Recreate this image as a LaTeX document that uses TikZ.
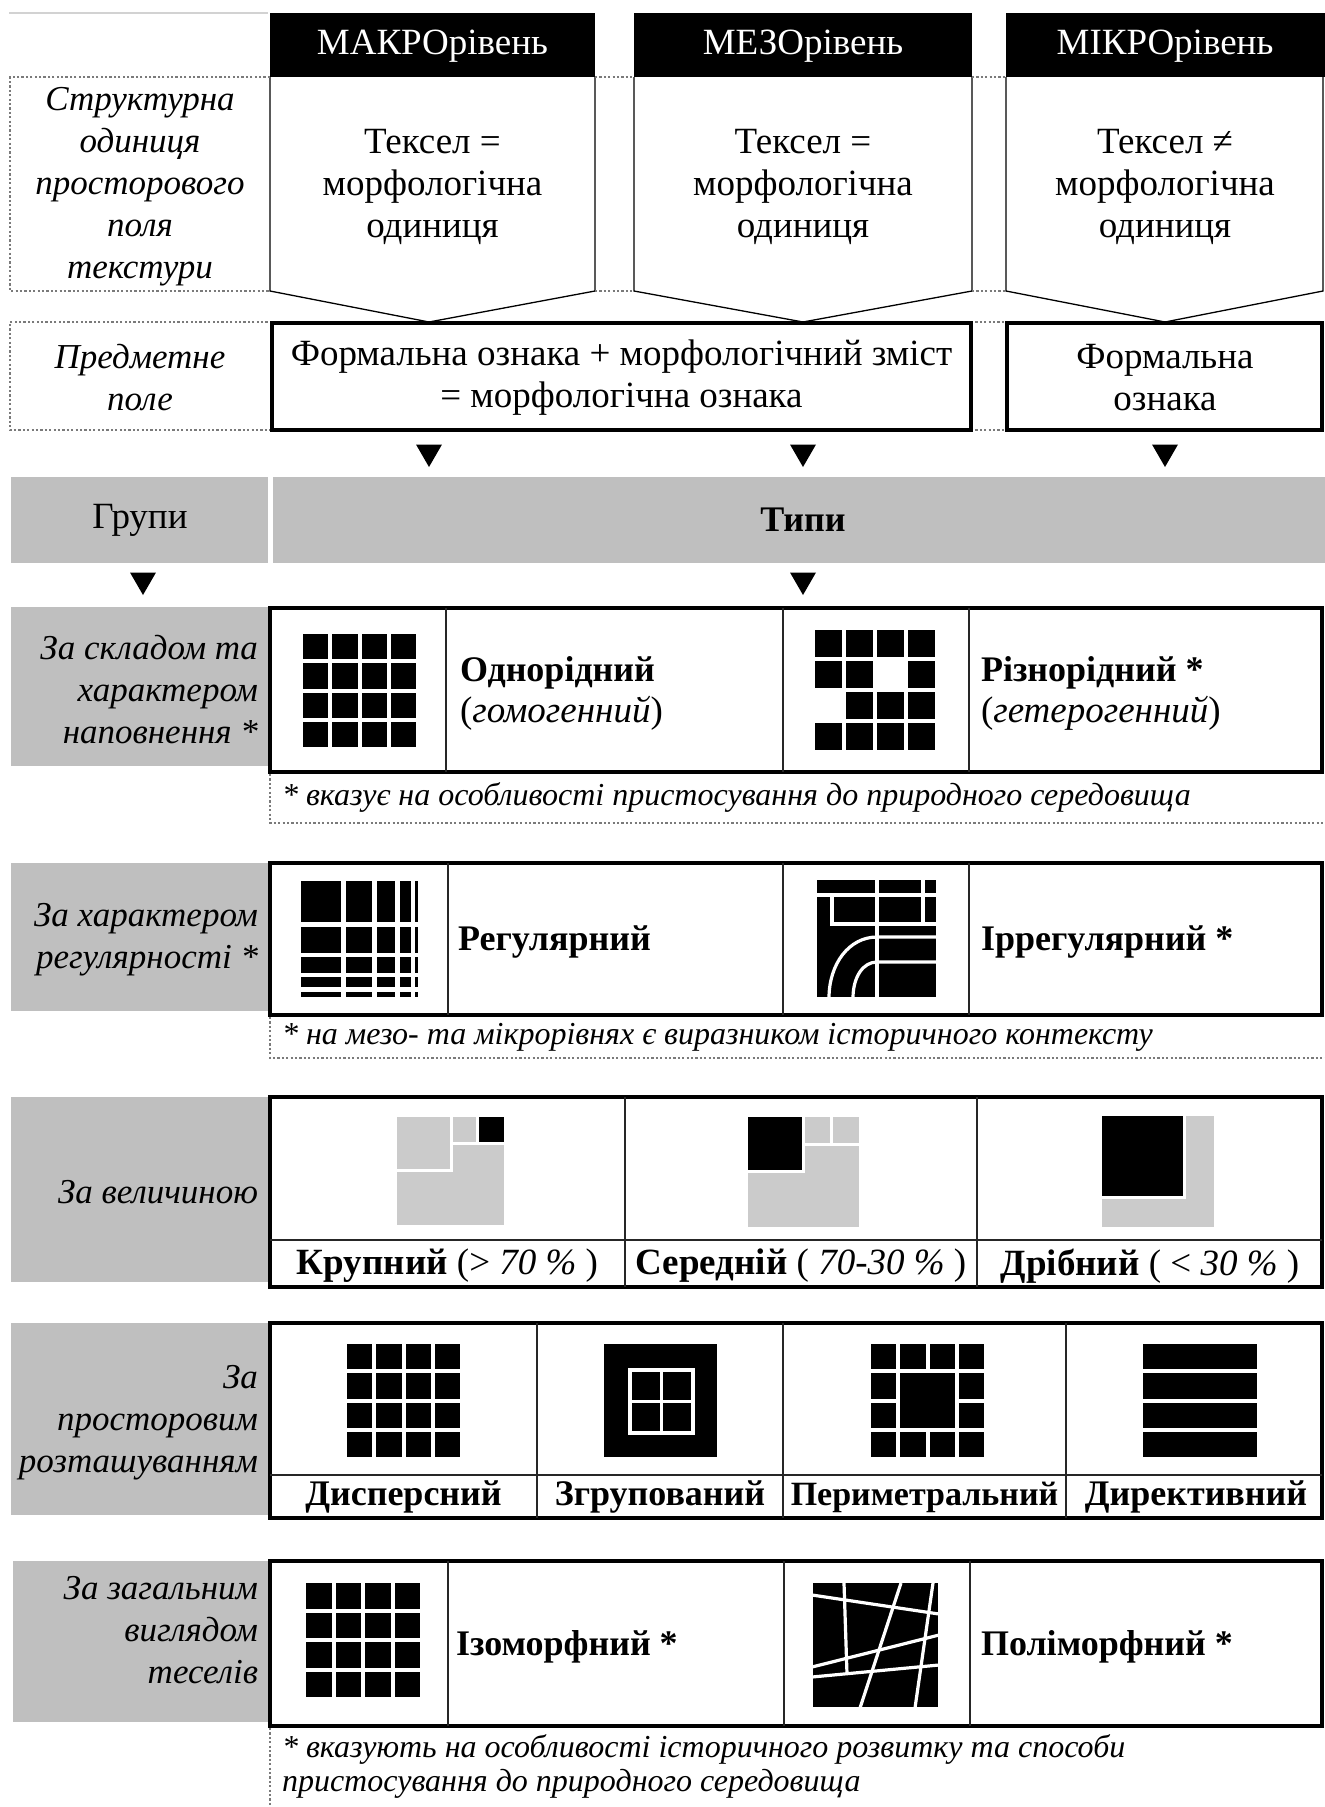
\documentclass[tikz,border=0pt]{standalone}
\usepackage{fontspec}
\setmainfont{Liberation Serif}
\usetikzlibrary{fit,shapes.geometric}
\definecolor{grp}{HTML}{BFBFBF}
\definecolor{lgr}{HTML}{CBCBCB}
\definecolor{dotc}{HTML}{7A7A7A}
\newcommand\fs{\fontsize{37}{42}\selectfont}
\newcommand\fsi{\fontsize{35}{42}\selectfont\itshape}
\newcommand\fsb{\fontsize{36}{42}\selectfont\bfseries}
\newcommand\fn{\fontsize{32}{36}\selectfont\itshape}
\newcommand\celgrid[4]{\foreach \i/\j in {#4}{\fill (#1+\i*#3, #2+\j*#3) rectangle ++(#3-4,#3-4);}}
\begin{document}
\begin{tikzpicture}[x=1pt,y=-1pt,every node/.style={inner sep=0pt,outer sep=0pt},
  dotl/.style={draw=dotc, line width=1.1pt, dash pattern=on 2.2pt off 2.2pt},
  pent/.style={draw=black, line width=1.3pt},
  hdr/.style={fill=black, draw=none},
  thickbox/.style={draw=black, line width=4pt},
  grpbox/.style={fill=grp, draw=none},
  divl/.style={draw=black!85, line width=1.3pt},
  txt/.style={font=\fs, align=center},
  itl/.style={font=\fsi, align=right, anchor=east},
  bld/.style={font=\fsb, anchor=west},
  foot/.style={font=\fn, anchor=west},
  tri/.style={regular polygon, regular polygon sides=3, shape border rotate=180, fill=black, minimum size=30pt},
  wl/.style={draw=white, line width=3.2pt}]
\useasboundingbox (0,0) rectangle (1325,1807);
\fill[white] (0,0) rectangle (1325,1807);
\draw[gray!35, line width=1.5pt] (9,13) -- (268,13);

% ---------- header ----------
\node[fit={(270,13)(595,77)}, hdr] (hmakro) {};
\node[fit={(634,13)(972,77)}, hdr] (hmezo) {};
\node[fit={(1006,13)(1325,77)}, hdr] (hmikro) {};
\node[font=\fs, text=white] (tmakro) at (432.5,46) {МАКРОрівень};
\node[font=\fs, text=white] (tmezo) at (803,46) {МЕЗОрівень};
\node[font=\fs, text=white] (tmikro) at (1165,46) {МІКРОрівень};

% pentagons
\draw[pent] (270,77) -- (270,291) -- (429,322) -- (595,291) -- (595,77);
\draw[pent] (634,77) -- (634,291) -- (803,322) -- (972,291) -- (972,77);
\draw[pent] (1006,77) -- (1006,291) -- (1165,322) -- (1323,291) -- (1323,77);

% dotted frame lines
\draw[dotl] (270,77) -- (10,77) -- (10,291) -- (270,291);
\draw[dotl] (595,77) -- (634,77);
\draw[dotl] (972,77) -- (1006,77);
\draw[dotl] (595,291) -- (634,291);
\draw[dotl] (972,291) -- (1006,291);
\draw[dotl] (272,322) -- (10,322) -- (10,430) -- (272,430);
\draw[dotl] (971,322) -- (1007,322);
\draw[dotl] (971,430) -- (1007,430);

\node[txt, font=\fsi] (lab1) at (140,187) {Структурна\\одиниця\\просторового\\поля\\текстури};
\node[txt] (m1) at (432.5,187) {Тексел =\\морфологічна\\одиниця};
\node[txt] (m2) at (803,187) {Тексел =\\морфологічна\\одиниця};
\node[txt] (m3) at (1165,187) {Тексел ≠\\морфологічна\\одиниця};

\node[txt, font=\fsi] (lab2) at (140,378) {Предметне\\поле};
\node[fit={(272,323)(971,430)}, thickbox] (pf1) {};
\node[txt] (pf1t) at (621.5,378) {Формальна ознака + морфологічний зміст\\= морфологічна ознака};
\node[fit={(1007,323)(1322,430)}, thickbox] (pf2) {};
\node[txt] (pf2t) at (1165,378) {Формальна\\ознака};

% arrows
\node[tri] (a1) at (429,452) {};
\node[tri] (a2) at (803,452) {};
\node[tri] (a3) at (1165,452) {};
\node[tri] (a4) at (143,580) {};
\node[tri] (a5) at (803,580) {};

% groups / types band
\node[fit={(11,477)(268,563)}, grpbox] (gg) {};
\node[txt] (ggt) at (140,520) {Групи};
\node[fit={(273,477)(1325,563)}, grpbox] (gt) {};
\node[txt, font=\fsb] (gtt) at (803,520) {Типи};

% ---------- Row A ----------
\node[fit={(11,607)(268,766)}, grpbox] (gA) {};
\node[itl] (lA) at (258,690) {За складом та\\характером\\наповнення *};
\node[fit={(270,608)(1322,772)}, thickbox] (bA) {};
\draw[divl] (446,608) -- (446,772);
\draw[divl] (783,608) -- (783,772);
\draw[divl] (969,608) -- (969,772);
\celgrid{303}{634}{29.25}{0/0,1/0,2/0,3/0,0/1,1/1,2/1,3/1,0/2,1/2,2/2,3/2,0/3,1/3,2/3,3/3}
\celgrid{815}{630}{31}{0/0,1/0,2/0,3/0,0/1,1/1,3/1,1/2,2/2,3/2,0/3,1/3,2/3,3/3}
\node[bld] (tA1) at (460,673) {Однорідний};
\node[font=\fs, anchor=west] (tA1b) at (460,713) {(\textit{гомогенний})};
\node[bld] (tA2) at (981,673) {Різнорідний *};
\node[font=\fs, anchor=west] (tA2b) at (981,713) {(\textit{гетерогенний})};
\draw[dotl] (270,774) -- (270,823) -- (1325,823);
\node[foot] (fA) at (282,797) {* вказує на особливості пристосування до природного середовища};

% ---------- Row B ----------
\node[fit={(11,863)(268,1011)}, grpbox] (gB) {};
\node[itl] (lB) at (258,940) {За характером\\регулярності *};
\node[fit={(270,863)(1322,1015)}, thickbox] (bB) {};
\draw[divl] (448,863) -- (448,1015);
\draw[divl] (783,863) -- (783,1015);
\draw[divl] (969,863) -- (969,1015);
\foreach \xa/\xb in {301/341,346/372,377/395,400/411,415/418}
  \foreach \ya/\yb in {881/922,927/953,957/973,977/987,992/997}
    \fill (\xa,\ya) rectangle (\xb,\yb);
\begin{scope}[shift={(817,880)}]
  \fill (0,0) rectangle (119,117);
  \begin{scope}
    \clip (0,0) rectangle (119,117);
    \draw[wl] (0,15) -- (119,15);
    \draw[wl] (60,0) -- (60,117);
    \draw[wl] (106,0) -- (106,44);
    \draw[wl] (15,15) -- (15,44) -- (119,44);
    \draw[wl] (12,118) .. controls (12,84) and (32,57) .. (60,57) -- (119,57);
    \draw[wl] (36,118) .. controls (36,97) and (46,82) .. (60,82) -- (119,82);
  \end{scope}
\end{scope}
\node[bld] (tB1) at (458,942) {Регулярний};
\node[bld] (tB2) at (981,942) {Іррегулярний *};
\draw[dotl] (270,1017) -- (270,1058) -- (1325,1058);
\node[foot] (fB) at (282,1037) {* на мезо- та мікрорівнях є виразником історичного контексту};

% ---------- Row C ----------
\node[fit={(11,1097)(268,1282)}, grpbox] (gC) {};
\node[itl] (lC) at (258,1192) {За величиною};
\node[fit={(270,1097)(1322,1287)}, thickbox] (bC) {};
\draw[divl] (625,1097) -- (625,1287);
\draw[divl] (977,1097) -- (977,1287);
\draw[divl] (270,1240) -- (1322,1240);
\begin{scope}[shift={(397,1117)}]
  \fill[lgr] (0,0) rectangle (107,108);
  \fill (81.5,0) rectangle (107,24.5);
  \draw[wl, line width=3pt] (54,0) -- (54,53) -- (0,53);
  \draw[wl, line width=3pt] (54,26) -- (107,26);
  \draw[wl, line width=3pt] (80,0) -- (80,26);
\end{scope}
\begin{scope}[shift={(748,1117)}]
  \fill[lgr] (0,0) rectangle (111,110);
  \fill (0,0) rectangle (54,53);
  \draw[wl, line width=3pt] (55.5,0) -- (55.5,54.5) -- (0,54.5);
  \draw[wl, line width=3pt] (55.5,27) -- (111,27);
  \draw[wl, line width=3pt] (83,0) -- (83,27);
\end{scope}
\begin{scope}[shift={(1102,1116)}]
  \fill[lgr] (0,0) rectangle (112,111);
  \fill (0,0) rectangle (81,80);
  \draw[wl, line width=3pt] (82.5,0) -- (82.5,81.5) -- (0,81.5);
\end{scope}
\node[font=\fs] (tC1) at (447.5,1266) {\textbf{Крупний} (> \textit{70 \%} )};
\node[font=\fs] (tC2) at (801,1266) {\textbf{Середній} ( \textit{70-30 \%} )};
\node[font=\fs] (tC3) at (1150,1266) {\textbf{Дрібний} ( < \textit{30 \%} )};

% ---------- Row D ----------
\node[fit={(11,1323)(268,1515)}, grpbox] (gD) {};
\node[itl] (lD) at (258,1423) {За\\просторовим\\розташуванням};
\node[fit={(270,1323)(1322,1518)}, thickbox] (bD) {};
\draw[divl] (537,1323) -- (537,1518);
\draw[divl] (783,1323) -- (783,1518);
\draw[divl] (1066,1323) -- (1066,1518);
\draw[divl] (270,1475) -- (1322,1475);
\celgrid{347}{1344}{29.25}{0/0,1/0,2/0,3/0,0/1,1/1,2/1,3/1,0/2,1/2,2/2,3/2,0/3,1/3,2/3,3/3}
\begin{scope}[shift={(604,1344)}]
  \fill (0,0) rectangle (113,113);
  \draw[wl] (26,26) rectangle (89,89);
  \draw[wl] (57.5,26) -- (57.5,89);
  \draw[wl] (26,57.5) -- (89,57.5);
\end{scope}
\celgrid{871}{1344}{29.25}{0/0,1/0,2/0,3/0,0/1,3/1,0/2,3/2,0/3,1/3,2/3,3/3}
\fill (871+29.25,1344+29.25) rectangle ++(54.5,54.5);
\foreach \j in {0,...,3} \fill (1143,1344+\j*29.25) rectangle ++(114,25.25);
\node[font=\fsb] (tD1) at (403.5,1497) {Дисперсний};
\node[font=\fsb] (tD2) at (660,1497) {Згрупований};
\node[font=\fontsize{34}{42}\selectfont\bfseries] (tD3) at (924.5,1497) {Периметральний};
\node[font=\fsb] (tD4) at (1196,1497) {Директивний};

% ---------- Row E ----------
\node[fit={(13,1561)(268,1722)}, grpbox] (gE) {};
\node[itl] (lE) at (258,1630) {За загальним\\виглядом\\теселів};
\node[fit={(270,1561)(1322,1726)}, thickbox] (bE) {};
\draw[divl] (448,1561) -- (448,1726);
\draw[divl] (784,1561) -- (784,1726);
\draw[divl] (970,1561) -- (970,1726);
\celgrid{306}{1583}{29.5}{0/0,1/0,2/0,3/0,0/1,1/1,2/1,3/1,0/2,1/2,2/2,3/2,0/3,1/3,2/3,3/3}
\begin{scope}[shift={(813,1583)}]
  \fill (0,0) rectangle (125,124);
  \begin{scope}
    \clip (0,0) rectangle (125,124);
    \draw[wl] (31,0) -- (34,91);
    \draw[wl] (88,0) -- (47,125);
    \draw[wl] (120,0) -- (102,125);
    \draw[wl] (-1,12) -- (126,31);
    \draw[wl] (-1,84) -- (126,52);
    \draw[wl] (-1,94) -- (126,82);
  \end{scope}
\end{scope}
\node[bld] (tE1) at (456,1647) {Ізоморфний *};
\node[bld] (tE2) at (981,1647) {Поліморфний *};
\draw[dotl] (270,1728) -- (270,1807);
\node[foot] (fE1) at (282,1749) {* вказують на особливості історичного розвитку та способи};
\node[foot] (fE2) at (282,1784) {пристосування до природного середовища};
\end{tikzpicture}
\end{document}
